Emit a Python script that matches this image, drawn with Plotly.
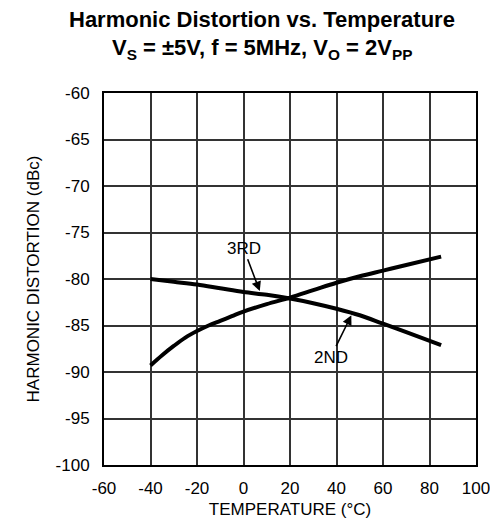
import plotly.graph_objects as go

# Data
temp_2nd = [-40, -35, -30, -25, -20, -15, -10, -5, 0, 10, 20, 30, 40, 50, 60, 70, 85]
hd_2nd = [-89.3, -88.2, -87.2, -86.3, -85.6, -85.0, -84.5, -84.0, -83.5, -82.7, -82.0, -81.2, -80.4, -79.7, -79.1, -78.5, -77.6]

temp_3rd = [-40, -30, -20, -10, 0, 10, 20, 30, 40, 50, 60, 70, 85]
hd_3rd = [-80.0, -80.3, -80.6, -81.0, -81.4, -81.7, -82.1, -82.6, -83.2, -83.9, -84.8, -85.7, -87.1]

x_ticks = [-60, -40, -20, 0, 20, 40, 60, 80, 100]
y_ticks = [-60, -65, -70, -75, -80, -85, -90, -95, -100]

title_line1 = "<b>Harmonic Distortion vs. Temperature</b>"
title_line2 = "<b>V<sub>S</sub> = ±5V, f = 5MHz, V<sub>O</sub> = 2V<sub>PP</sub></b>"

FONT = "Liberation Sans, Arial, sans-serif"

fig = go.Figure()
fig.add_trace(go.Scatter(x=temp_2nd, y=hd_2nd, mode="lines", name="2ND",
                         line=dict(color="black", width=4, shape="spline")))
fig.add_trace(go.Scatter(x=temp_3rd, y=hd_3rd, mode="lines", name="3RD",
                         line=dict(color="black", width=4, shape="spline")))

fig.add_annotation(x=7.0, y=-81.3, ax=0.0, ay=-76.7, axref="x", ayref="y",
                   text="3RD", showarrow=True, arrowhead=2, arrowsize=1.2,
                   arrowwidth=1.6, arrowcolor="black",
                   font=dict(family=FONT, size=17, color="black"))
fig.add_annotation(x=46.4, y=-83.9, ax=37.5, ay=-88.4, axref="x", ayref="y",
                   text="2ND", showarrow=True, arrowhead=2, arrowsize=1.2,
                   arrowwidth=1.6, arrowcolor="black",
                   font=dict(family=FONT, size=17, color="black"))

# Title lines as paper-positioned annotations
fig.add_annotation(x=0.4234, y=(457 - 12) / 372, xref="paper", yref="paper",
                   xanchor="center", yanchor="middle", showarrow=False,
                   text=title_line1, font=dict(family=FONT, size=22, color="black"))
fig.add_annotation(x=0.4234, y=(457 - 41) / 372, xref="paper", yref="paper",
                   xanchor="center", yanchor="middle", showarrow=False,
                   text=title_line2, font=dict(family=FONT, size=22, color="black"))

fig.update_layout(
    width=498, height=520,
    margin=dict(l=96, r=30, t=85, b=63),
    paper_bgcolor="white", plot_bgcolor="white",
    showlegend=False,
    font=dict(family=FONT, size=17, color="black"),
    xaxis=dict(
        range=[-60, 100], tickvals=x_ticks, ticktext=[str(v) for v in x_ticks],
        showgrid=True, gridcolor="#333333", gridwidth=1.5,
        showline=True, linecolor="black", linewidth=2, mirror=True,
        zeroline=False, ticks="", ticklabelstandoff=7,
        title=dict(text="TEMPERATURE (°C)", standoff=6,
                   font=dict(family=FONT, size=17)),
    ),
    yaxis=dict(
        range=[-100, -60], tickvals=y_ticks, ticktext=[str(v) for v in y_ticks],
        showgrid=True, gridcolor="#333333", gridwidth=1.5,
        showline=True, linecolor="black", linewidth=2, mirror=True,
        zeroline=False, ticks="", ticklabelstandoff=9,
        title=dict(text="HARMONIC DISTORTION (dBc)", standoff=12,
                   font=dict(family=FONT, size=17)),
    ),
)

fig.write_html("out.html")
